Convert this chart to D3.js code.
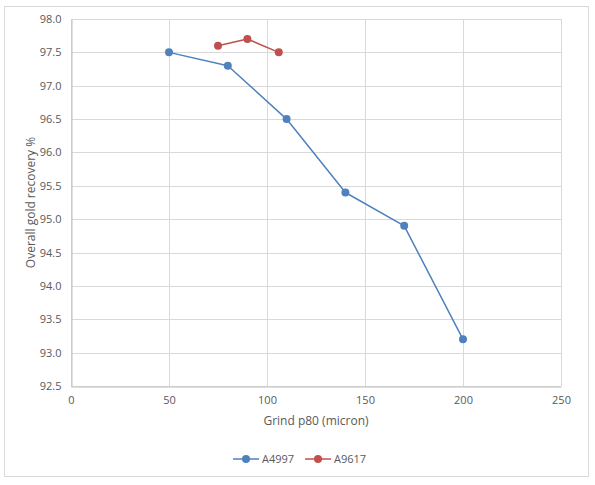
<!DOCTYPE html>
<html>
<head>
<meta charset="utf-8">
<script src="https://cdn.jsdelivr.net/npm/d3@7"></script>
<style>
  body { margin: 0; background: #fff; }
  text { font-family: "Open Sans", "Liberation Sans", sans-serif; fill: #595959; }
</style>
</head>
<body>
<div id="chart"></div>
<script>
var xTicks = [0, 50, 100, 150, 200, 250];
var yTicks = [92.5, 93.0, 93.5, 94.0, 94.5, 95.0, 95.5, 96.0, 96.5, 97.0, 97.5, 98.0];

var seriesNames = ["A4997", "A9617"];
var a4997Grind = [50, 80, 110, 140, 170, 200];
var a4997Recovery = [97.5, 97.3, 96.5, 95.4, 94.9, 93.2];
var a9617Grind = [75, 90, 106];
var a9617Recovery = [97.6, 97.7, 97.5];
var colors = ["#4f81bd", "#c0504d"];

function zip(xs, ys) {
    return xs.map(function (x, i) { return { x: x, y: ys[i] } })
}
var series = [zip(a4997Grind, a4997Recovery), zip(a9617Grind, a9617Recovery)];

var width = 595, height = 485;
var margin = {top: 19, right: 35, bottom: 99, left: 71};

var svg = d3.select('#chart')
    .append('svg')
    .attr('width', width)
    .attr('height', height);

// chart border
svg.append('rect')
    .attr('x', 4.5).attr('y', 6.5)
    .attr('width', 584).attr('height', 470)
    .attr('fill', '#fff')
    .attr('stroke', '#d9d9d9');

var x = d3.scaleLinear()
    .domain([0, 250])
    .range([margin.left, width - margin.right + 1]);

var y = d3.scaleLinear()
    .domain([92.5, 98])
    .range([height - margin.bottom, margin.top]);

// gridlines
svg.append('g')
    .selectAll('line.h')
    .data(yTicks)
    .enter().append('line')
    .attr('x1', x(0)).attr('x2', x(250))
    .attr('y1', d => Math.round(y(d)) + 0.5)
    .attr('y2', d => Math.round(y(d)) + 0.5)
    .attr('stroke', '#d9d9d9');

svg.append('g')
    .selectAll('line.v')
    .data(xTicks)
    .enter().append('line')
    .attr('y1', y(92.5)).attr('y2', y(98))
    .attr('x1', d => Math.round(x(d)) + 0.5)
    .attr('x2', d => Math.round(x(d)) + 0.5)
    .attr('stroke', '#d9d9d9');

// axes
var xAxis = d3.axisBottom(x).tickValues(xTicks).tickSize(0).tickPadding(10);
var yAxis = d3.axisLeft(y).tickValues(yTicks).tickSize(0).tickPadding(10)
    .tickFormat(d3.format('.1f'));

var gx = svg.append('g')
    .attr('transform', 'translate(0,' + (Math.round(y(92.5)) + 0.5) + ')')
    .call(xAxis);
var gy = svg.append('g')
    .attr('transform', 'translate(' + (Math.round(x(0)) + 0.5) + ',0)')
    .call(yAxis);

[gx, gy].forEach(function (g) {
    g.select('.domain').attr('stroke', '#bfbfbf');
    g.selectAll('text').style('font-size', '11px')
        .style('font-family', '"Open Sans", "Liberation Sans", sans-serif')
        .attr('fill', '#595959');
});

// axis titles
svg.append('text')
    .attr('x', (x(0) + x(250)) / 2)
    .attr('y', 425)
    .attr('text-anchor', 'middle')
    .style('font-size', '12px')
    .text('Grind p80 (micron)');

svg.append('text')
    .attr('transform', 'translate(35,' + ((y(92.5) + y(98)) / 2) + ') rotate(-90)')
    .attr('text-anchor', 'middle')
    .style('font-size', '12px')
    .text('Overall gold recovery %');

// series
var line = d3.line()
    .x(d => x(d.x))
    .y(d => y(d.y));

series.forEach(function (data, i) {
    svg.append('path')
        .datum(data)
        .attr('fill', 'none')
        .attr('stroke', colors[i])
        .attr('stroke-width', 1.5)
        .attr('stroke-linejoin', 'round')
        .attr('d', line);

    svg.selectAll('dot' + i)
        .data(data)
        .enter().append('circle')
        .attr('fill', colors[i])
        .attr('r', 4)
        .attr('cx', d => x(d.x))
        .attr('cy', d => y(d.y));
});

// legend
var legend = svg.append('g').attr('transform', 'translate(233,459)');
seriesNames.forEach(function (name, i) {
    var g = legend.append('g').attr('transform', 'translate(' + (i * 72) + ',0)');
    g.append('line')
        .attr('x1', 0).attr('x2', 26)
        .attr('stroke', colors[i]).attr('stroke-width', 1.5);
    g.append('circle')
        .attr('cx', 13).attr('r', 4).attr('fill', colors[i]);
    g.append('text')
        .attr('x', 29).attr('y', 4)
        .style('font-size', '11px')
        .text(name);
});
</script>
</body>
</html>
